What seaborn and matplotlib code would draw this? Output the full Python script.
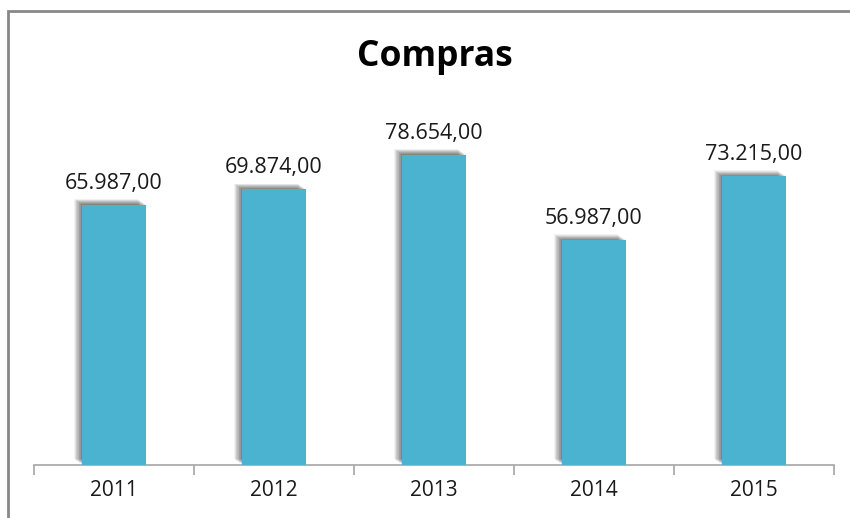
import matplotlib
matplotlib.use("Agg")
import matplotlib.pyplot as plt
import matplotlib.patheffects as pe
from matplotlib.patches import Rectangle
import seaborn as sns
import pandas as pd
import numpy as np

years = ["2011", "2012", "2013", "2014", "2015"]
values = [65987, 69874, 78654, 56987, 73215]
labels = ["65.987,00", "69.874,00", "78.654,00", "56.987,00", "73.215,00"]

sns.set_style("white")
plt.rcParams["font.family"] = ["Open Sans", "DejaVu Sans"]

df = pd.DataFrame({"Ano": years, "Compras": values})

fig = plt.figure(figsize=(8.5, 5.18), dpi=100)
ax = fig.add_axes([34/850, 1-465/518, 800/850, (465-110)/518])

sns.barplot(data=df, x="Ano", y="Compras", color="#4BB3CF", saturation=1,
            width=0.4, ax=ax, zorder=3)

shadow = [pe.SimplePatchShadow(offset=(-o, o * 0.75), shadow_rgbFace="#000000", alpha=0.055)
          for o in np.arange(5.5, 0, -0.5)]
for p in ax.patches:
    p.set_path_effects(shadow + [pe.Normal()])
    p.set_edgecolor("none")

for i, (v, t) in enumerate(zip(values, labels)):
    ax.annotate(t, (i, v), xytext=(0, 8), textcoords="offset points",
                ha="center", va="bottom", fontsize=15.5, color="#1a1a1a")

ax.set_ylim(0, 90000)
ax.set_xlim(-0.5, 4.5)
ax.set_xlabel("")
ax.set_ylabel("")
ax.set_yticks([])
for s in ["top", "right", "left"]:
    ax.spines[s].set_visible(False)
ax.spines["bottom"].set_color("#a6a6a6")
ax.spines["bottom"].set_linewidth(1.2)
ax.set_xticks(np.arange(-0.5, 5, 1), minor=True)
ax.tick_params(axis="x", which="minor", length=7, width=1.2, color="#a6a6a6",
               direction="out", bottom=True)
ax.tick_params(axis="x", which="major", length=0, pad=11, labelsize=15,
               labelcolor="#1a1a1a")

fig.text(0.512, 1-57/518, "Compras", ha="center", va="center",
         fontsize=25.5, fontweight="bold", color="black")

fig.patches.append(Rectangle((8/850, -0.1), 1.2, 1-11/518+0.1,
                             transform=fig.transFigure, fill=False,
                             edgecolor="#888888", linewidth=2))

fig.savefig("out.png", dpi=100)
